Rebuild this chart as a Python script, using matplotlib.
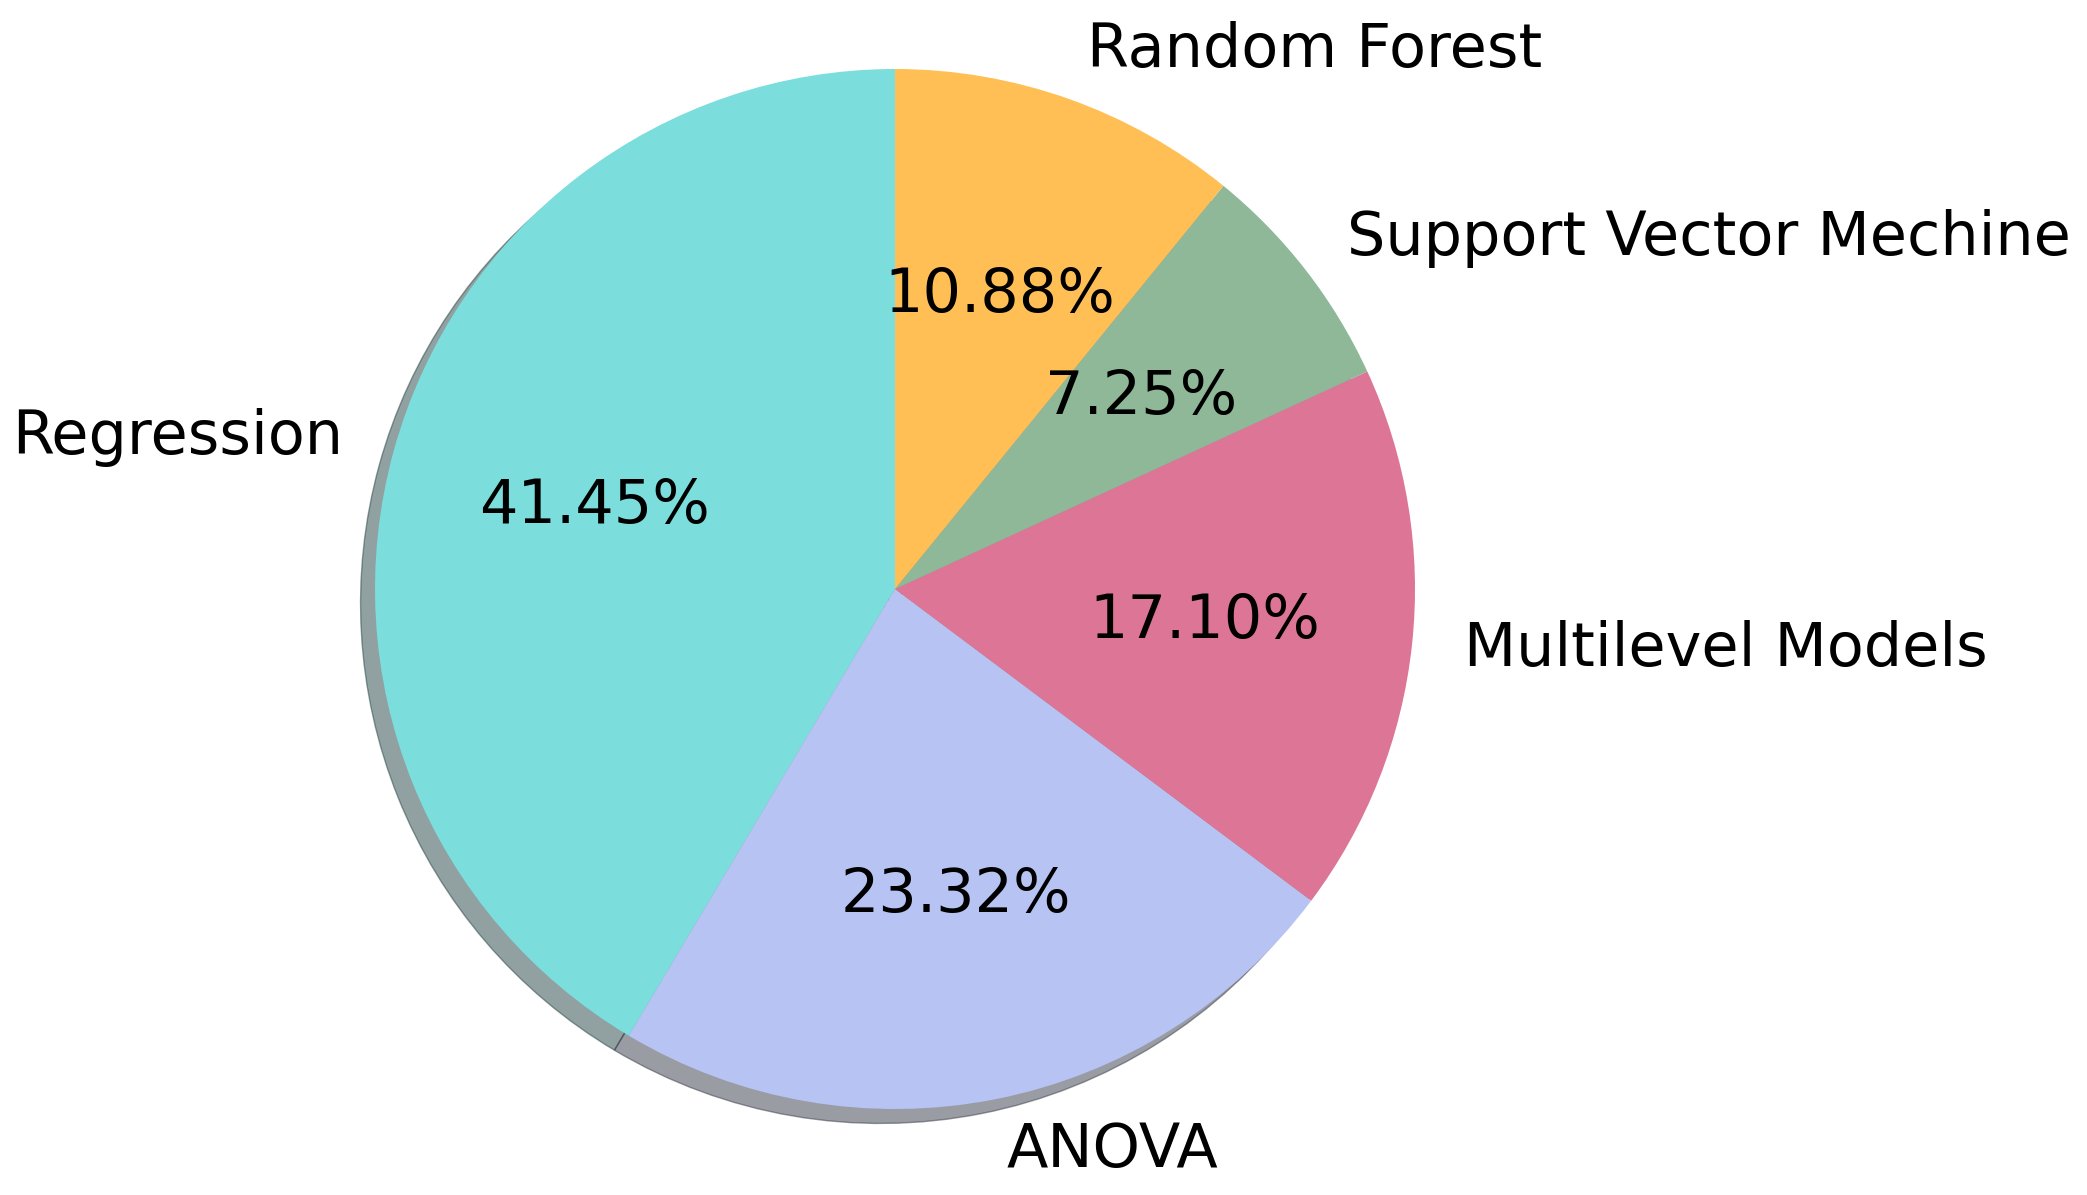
import matplotlib
matplotlib.use('Agg')
import matplotlib.pyplot as plt

# dados do grafico
labels = ['Regression', 'ANOVA', 'Multilevel Models', 'Support Vector Mechine', 'Random Forest']
percent = [41.45, 23.32, 17.10, 7.25, 10.88]
cores = ['#7CDDDD', '#B7C3F3', '#DD7596', '#8EB897', '#FFBF55']

W, H = 2087, 1195
fig = plt.figure(figsize=(W / 100, H / 100), dpi=100)

# posicao do pie em pixels (centro e raio)
cx, cy, r = 895, H - 589, 520
lim = 1.25
lado = 2 * lim * r
ax = fig.add_axes([(cx - lado / 2) / W, (cy - lado / 2) / H, lado / W, lado / H])

ax.pie(percent, labels=labels, colors=cores, autopct='%1.2f%%', startangle=90,
       shadow=True, textprops={'fontsize': 43.6})
ax.set_xlim(-lim, lim)
ax.set_ylim(-lim, lim)
ax.set_aspect('equal')
ax.axis('off')

fig.savefig('out.png', dpi=100)
